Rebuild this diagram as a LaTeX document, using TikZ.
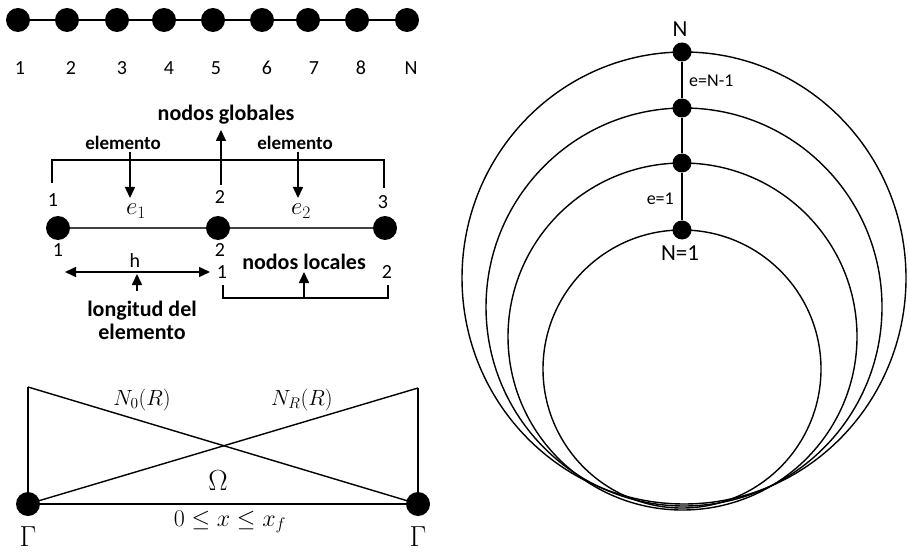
\RequirePackage{fix-cm}
\documentclass[tikz,border=0pt]{standalone}
\usepackage{fontspec}
\setmainfont{Carlito}
\usetikzlibrary{arrows.meta}
\tikzset{
  dot/.style={circle, fill=black, inner sep=0pt, minimum size=24pt},
  sdot/.style={circle, fill=black, inner sep=0pt, minimum size=19pt},
  lbl/.style={font=\fontsize{20}{24}\selectfont, inner sep=0pt},
  blbl/.style={font=\fontsize{22}{26}\selectfont\bfseries, inner sep=0pt},
  elbl/.style={font=\fontsize{19}{23}\selectfont\bfseries, inner sep=0pt},
  mth/.style={font=\fontsize{22}{26}\selectfont, inner sep=0pt},
  emth/.style={font=\fontsize{25}{29}\selectfont, inner sep=0pt},
  bigmth/.style={font=\fontsize{29}{33}\selectfont, inner sep=0pt},
  ln/.style={line width=2pt},
  gln/.style={line width=2.2pt, draw=black!75},
  thin/.style={line width=1.4pt},
  arr/.style={line width=1.6pt, -{Triangle[length=11pt,width=10pt]}},
  darr/.style={line width=1.6pt, {Triangle[length=11pt,width=10pt]}-{Triangle[length=11pt,width=10pt]}},
  circ/.style={line width=1.4pt},
}
\begin{document}
\begin{tikzpicture}[x=1pt,y=-1pt]
\useasboundingbox (0,0) rectangle (909,553);
% ---------- top chain
\foreach \x [count=\i] in {18,67,117,164,213,262,308,357,407}
  \node[dot] (t\i) at (\x,20) {};
\draw[ln] (t1) -- (t2) -- (t3) -- (t4) -- (t5) -- (t6) -- (t7) -- (t8) -- (t9);
\foreach \x/\t [count=\i] in {20/1,71/2,122/3,169/4,216/5,267/6,314/7,361/8,411/N}
  \node[lbl] (n\i) at (\x,68) {\t};
% ---------- element diagram
\node[blbl] (glob) at (226,115) {nodos globales};
\node[elbl] (el1) at (123,143) {elemento};
\node[elbl] (el2) at (295,143) {elemento};
\coordinate (bl) at (52,183);
\coordinate (bltop) at (52,160);
\coordinate (brtop) at (384,160);
\coordinate (br) at (384,188);
\draw[ln] (bl) -- (bltop) -- (brtop) -- (br);
\coordinate (gs) at (221,185);
\coordinate (ge) at (221,130);
\draw[arr] (gs) -- (ge);
\coordinate (a1s) at (130,152);
\coordinate (a1e) at (130,198);
\draw[arr] (a1s) -- (a1e);
\coordinate (a2s) at (298,152);
\coordinate (a2e) at (298,198);
\draw[arr] (a2s) -- (a2e);
\node[lbl] (g1) at (53,200) {1};
\node[lbl] (g2) at (220,197) {2};
\node[lbl] (g3) at (383,202) {3};
\node[dot] (m1) at (58,228) {};
\node[dot] (m2) at (218,228) {};
\node[dot] (m3) at (385,228) {};
\draw[gln] (m1) -- (m2) -- (m3);
\node[emth] (e1) at (136,211) {$e_1$};
\node[emth] (e2) at (301,211) {$e_2$};
\node[lbl] (l1) at (58,250) {1};
\node[lbl] (l2) at (220,250) {2};
\node[lbl] (l3) at (222,272) {1};
\node[lbl] (l4) at (387,272) {2};
\node[lbl] (hh) at (135,261) {h};
\coordinate (hl) at (65,272);
\coordinate (hr) at (210,272);
\draw[darr] (hl) -- (hr);
\coordinate (hs) at (137,291);
\coordinate (he) at (137,274);
\draw[arr] (hs) -- (he);
\node[blbl, align=center] (long) at (142,320) {longitud del\\[-3pt]elemento};
\node[blbl] (loc) at (304,262) {nodos locales};
\coordinate (cl) at (223,285);
\coordinate (clb) at (223,298);
\coordinate (crb) at (388,298);
\coordinate (cr) at (388,285);
\draw[ln] (cl) -- (clb) -- (crb) -- (cr);
\coordinate (ls) at (304,298);
\coordinate (le) at (304,272);
\draw[arr] (ls) -- (le);
% ---------- shape functions
\node[dot] (b1) at (28,504) {};
\node[dot] (b2) at (418,504) {};
\coordinate (tl) at (28,387);
\coordinate (tr) at (418,388);
\draw[thin] (tl) -- (b1);
\draw[thin] (tr) -- (b2);
\draw[thin] (tl) -- (b2.center);
\draw[thin] (b1.center) -- (tr);
\draw[thin] (b1) -- (b2);
\node[mth] (n0) at (142,400) {$N_0(R)$};
\node[mth] (nr) at (302,400) {$N_R(R)$};
\node[bigmth] (om) at (218,481) {$\Omega$};
\node[font=\fontsize{24}{28}\selectfont, inner sep=0pt] (dom) at (230,522) {$0\leq x\leq x_f$};
\node[bigmth] (gam1) at (28,537) {$\Gamma$};
\node[bigmth] (gam2) at (418,537) {$\Gamma$};
% ---------- radial mesh
\draw[circ] (682,369) ellipse [x radius=139, y radius=139];
\draw[circ] (682.5,336.5) ellipse [x radius=174.5, y radius=173.5];
\draw[circ] (684,307) ellipse [x radius=198, y radius=199];
\draw[circ] (684,278) ellipse [x radius=222, y radius=226];
\node[sdot] (r1) at (682,52) {};
\node[sdot] (r2) at (682,108) {};
\node[sdot] (r3) at (682,163) {};
\node[sdot] (r4) at (682,230) {};
\draw[ln] (r1) -- (r2) -- (r3) -- (r4);
\node[font=\fontsize{23}{27}\selectfont, inner sep=0pt] (rn) at (680,29) {N};
\node[font=\fontsize{23}{27}\selectfont, inner sep=0pt] (rn1) at (680,253) {N=1};
\node[font=\fontsize{18}{21}\selectfont, inner sep=0pt, anchor=west] (eN) at (689,81) {e=N-1};
\node[font=\fontsize{18}{21}\selectfont, inner sep=0pt, anchor=east] (e1r) at (674,199) {e=1};
\end{tikzpicture}
\end{document}
